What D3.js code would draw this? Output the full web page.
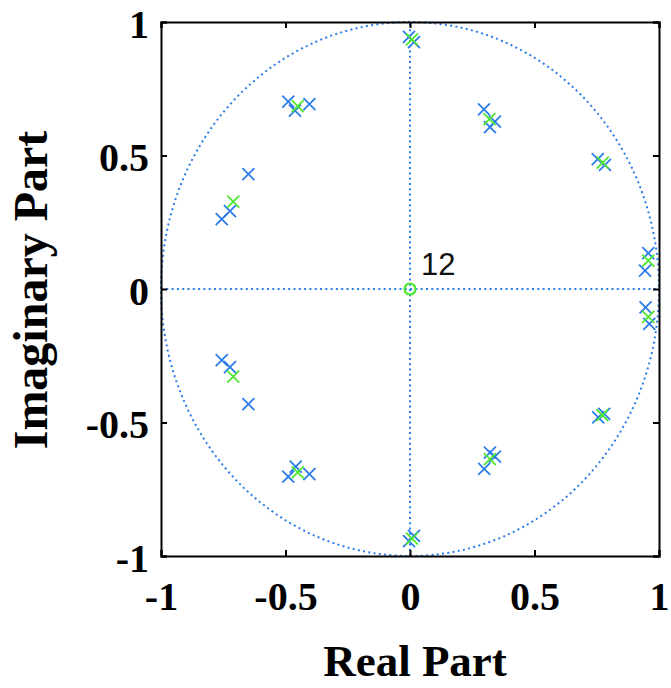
<!DOCTYPE html>
<html>
<head>
<meta charset="utf-8">
<script src="https://cdn.jsdelivr.net/npm/d3@7"></script>
<style>
  body { margin: 0; background: #fff; }
  svg text { font-family: "Liberation Serif", "Times New Roman", serif; }
</style>
</head>
<body>
<div id="chart"></div>
<script>
// pole/zero locations
var blueRe = [-0.489, -0.462, -0.404, -0.649, -0.723, -0.756, -0.004, 0.016, 0.297, 0.341, 0.321, 0.754, 0.783, 0.957, 0.944,
              -0.489, -0.459, -0.404, -0.649, -0.723, -0.756, -0.004, 0.016, 0.298, 0.341, 0.321, 0.756, 0.780, 0.961, 0.946];
var blueIm = [0.702, 0.668, 0.692, 0.430, 0.292, 0.262, 0.944, 0.925, 0.673, 0.627, 0.606, 0.486, 0.465, 0.134, 0.069,
              -0.703, -0.665, -0.693, -0.431, -0.293, -0.266, -0.944, -0.925, -0.674, -0.628, -0.613, -0.481, -0.468, -0.131, -0.069];
var greenRe = [-0.451, -0.710, 0.008, 0.319, 0.774, 0.957, -0.451, -0.710, 0.008, 0.321, 0.772, 0.957];
var greenIm = [0.685, 0.327, 0.935, 0.636, 0.473, 0.106, -0.687, -0.328, -0.935, -0.637, -0.472, -0.104];
var zeroRe = [0], zeroIm = [0], zeroCount = ["12"];
var ticks = [-1, -0.5, 0, 0.5, 1];
var tickLabels = ["-1", "-0.5", "0", "0.5", "1"];

var W = 671, H = 688;
var blue = "#2b7de9", green = "#4fe830";

var svg = d3.select("#chart").append("svg").attr("width", W).attr("height", H);

var x = d3.scaleLinear().domain([-1, 1]).range([161, 659]);
var y = d3.scaleLinear().domain([-1, 1]).range([556, 22]);

// unit circle and axes (dotted)
var ref = svg.append("g").attr("fill", "none").attr("stroke", blue)
    .attr("stroke-width", 2).attr("stroke-dasharray", "2,3.3");
ref.append("ellipse").attr("cx", x(0)).attr("cy", y(0))
    .attr("rx", x(1) - x(0)).attr("ry", y(0) - y(1));
ref.append("line").attr("x1", x(-1)).attr("x2", x(1)).attr("y1", y(0)).attr("y2", y(0));
ref.append("line").attr("x1", x(0)).attr("x2", x(0)).attr("y1", y(-1)).attr("y2", y(1));

// x markers
function crosses(re, im, col) {
  var s = 6;
  var g = svg.append("g").attr("stroke", col).attr("stroke-width", 1.8).attr("fill", "none");
  g.selectAll("path").data(d3.range(re.length)).enter().append("path")
    .attr("d", function(i) {
      var cx = x(re[i]), cy = y(im[i]);
      return "M" + (cx - s) + "," + (cy - s) + "L" + (cx + s) + "," + (cy + s) +
             "M" + (cx - s) + "," + (cy + s) + "L" + (cx + s) + "," + (cy - s);
    });
}
crosses(blueRe, blueIm, blue);
crosses(greenRe, greenIm, green);

// multiple zero at origin
svg.selectAll("circle.z").data(zeroRe).enter().append("circle")
  .attr("cx", function(d, i) { return x(zeroRe[i]); })
  .attr("cy", function(d, i) { return y(zeroIm[i]); })
  .attr("r", 5.5).attr("fill", "none").attr("stroke", green).attr("stroke-width", 2.2);
svg.selectAll("text.z").data(zeroCount).enter().append("text")
  .attr("x", function(d, i) { return x(zeroRe[i]) + 11; })
  .attr("y", function(d, i) { return y(zeroIm[i]) - 14; })
  .style("font-family", "'Liberation Sans', Arial, sans-serif")
  .style("font-size", "31px").attr("fill", "#111").text(function(d) { return d; });

// frame with inward ticks on all sides
var fmt = function(d) { return tickLabels[ticks.indexOf(d)]; };
var ax = [
  svg.append("g").attr("transform", "translate(0," + y(-1) + ")").call(d3.axisBottom(x).tickValues(ticks).tickSize(-6).tickFormat(fmt)),
  svg.append("g").attr("transform", "translate(0," + y(1) + ")").call(d3.axisTop(x).tickValues(ticks).tickSize(-6).tickFormat("")),
  svg.append("g").attr("transform", "translate(" + x(-1) + ",0)").call(d3.axisLeft(y).tickValues(ticks).tickSize(-6).tickFormat(fmt)),
  svg.append("g").attr("transform", "translate(" + x(1) + ",0)").call(d3.axisRight(y).tickValues(ticks).tickSize(-6).tickFormat(""))
];
ax.forEach(function(a) {
  a.select(".domain").attr("stroke", "#000").attr("stroke-width", 2);
  a.selectAll(".tick line").attr("stroke", "#000").attr("stroke-width", 2);
  a.selectAll("text").style("font-family", "'Liberation Serif', 'Times New Roman', serif")
    .style("font-size", "40px").style("font-weight", "bold").attr("fill", "#000");
});
ax[0].selectAll(".tick text").attr("dy", null).attr("y", 54);
ax[2].selectAll(".tick text").attr("dy", null).attr("x", -12).attr("y", 15);

// axis titles
svg.append("text").attr("x", 415).attr("y", 676).attr("text-anchor", "middle")
  .style("font-size", "45px").style("font-weight", "bold").text("Real Part");
svg.append("text").attr("transform", "translate(47,290) rotate(-90)").attr("text-anchor", "middle")
  .style("font-size", "48px").style("font-weight", "bold").text("Imaginary Part");
</script>
</body>
</html>
